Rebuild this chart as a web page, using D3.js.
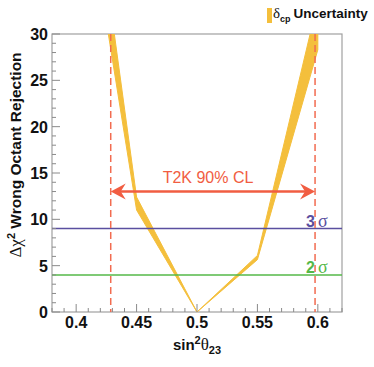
<!DOCTYPE html>
<html><head><meta charset="utf-8">
<script src="https://cdn.jsdelivr.net/npm/d3@7"></script>
<style>body{margin:0;background:#fff}svg{display:block}text{font-family:"Liberation Sans",Arial,sans-serif}</style>
</head><body>
<script>
// ---- data ----
const bandX  = [0.425, 0.45, 0.50, 0.55, 0.60];
const bandLo = [31.3, 11.0, 0.0, 5.65, 28.3];
const bandHi = [36.3, 12.4, 0.0, 6.1, 33.5];
const clBounds = [0.4286, 0.5977];
const clArrowY = 13;
const sigmaLevels = [9, 4];
const sigmaLabels = ["3", "2"];
const xMajorTicks = [0.4, 0.45, 0.5, 0.55, 0.6];
const xTickLabels = ["0.4", "0.45", "0.5", "0.55", "0.6"];
const yMajorTicks = [0, 5, 10, 15, 20, 25, 30];

const W = 374, H = 367;
const m = {l: 52, r: 32, t: 34, b: 55};
const svg = d3.select("body").append("svg").attr("width", W).attr("height", H);
const x = d3.scaleLinear().domain([0.38, 0.62]).range([m.l, W - m.r]);
const y = d3.scaleLinear().domain([0, 30]).range([H - m.b, m.t]);
const axisCol = "#8a8a8a";

svg.append("clipPath").attr("id", "clip").append("rect")
  .attr("x", m.l).attr("y", m.t).attr("width", W - m.r - m.l).attr("height", H - m.b - m.t);

// frame
svg.append("rect").attr("x", m.l).attr("y", m.t).attr("width", W - m.r - m.l).attr("height", H - m.b - m.t)
  .attr("fill", "none").attr("stroke", "#a0a0a0").attr("stroke-width", 1.2);

// band
const bandData = bandX.map((d, i) => ({x: d, lo: bandLo[i], hi: bandHi[i]}));
const area = d3.area().x(d => x(d.x)).y0(d => y(d.lo)).y1(d => y(d.hi));
svg.append("path").datum(bandData).attr("d", area).attr("clip-path", "url(#clip)")
  .attr("fill", "#f4bf3c").attr("stroke", "#f4bf3c").attr("stroke-width", 1).attr("stroke-linejoin", "round");

// sigma lines
const sigCols = ["#5a4fa0", "#55b848"];
sigmaLevels.forEach((v, i) => {
  svg.append("line").attr("x1", m.l).attr("x2", W - m.r).attr("y1", y(v)).attr("y2", y(v))
    .attr("stroke", sigCols[i]).attr("stroke-width", 1.5);
  const t = svg.append("text").attr("x", 306).attr("y", y(v) - 2).attr("fill", sigCols[i]).attr("font-size", 16);
  t.append("tspan").attr("font-weight", "bold").text(sigmaLabels[i]);
  t.append("tspan").attr("dx", 3).attr("font-family", "'Liberation Serif',serif").attr("font-size", 18).text("σ");
});

// dashed CL lines
clBounds.forEach(v => {
  svg.append("line").attr("x1", x(v)).attr("x2", x(v)).attr("y1", m.t).attr("y2", H - m.b)
    .attr("stroke", "#f26c50").attr("stroke-width", 1.5).attr("stroke-dasharray", "7,4");
});

// arrow
const ac = "#f15d42";
const ay = y(clArrowY), ax1 = x(clBounds[0]), ax2 = x(clBounds[1]);
svg.append("line").attr("x1", ax1 + 8).attr("x2", ax2 - 8).attr("y1", ay).attr("y2", ay)
  .attr("stroke", ac).attr("stroke-width", 2.5);
const head = (tx, dir) => {
  const L = 15, h = 8, n = 10;
  return `M${tx},${ay} L${tx + dir * L},${ay - h} L${tx + dir * n},${ay} L${tx + dir * L},${ay + h} Z`;
};
svg.append("path").attr("d", head(ax1, 1)).attr("fill", ac);
svg.append("path").attr("d", head(ax2, -1)).attr("fill", ac);
svg.append("text").attr("x", 208).attr("y", 183).attr("text-anchor", "middle")
  .attr("fill", ac).attr("font-size", 16).text("T2K 90% CL");

// x axis ticks
const g = svg.append("g");
d3.range(0.38, 0.6201, 0.01).forEach(v => {
  const maj = xMajorTicks.some(t => Math.abs(t - v) < 1e-6);
  g.append("line").attr("x1", x(v)).attr("x2", x(v)).attr("y1", y(0)).attr("y2", y(0) - (maj ? 8 : 4))
    .attr("stroke", axisCol).attr("stroke-width", 1);
});
xMajorTicks.forEach((v, i) => {
  g.append("text").attr("x", x(v)).attr("y", 328).attr("text-anchor", "middle")
    .attr("font-size", 16).attr("font-weight", "bold").attr("fill", "#111").text(xTickLabels[i]);
});
d3.range(0, 31, 1).forEach(v => {
  const maj = v % 5 === 0;
  g.append("line").attr("x1", m.l).attr("x2", m.l + (maj ? 8 : 4)).attr("y1", y(v)).attr("y2", y(v))
    .attr("stroke", axisCol).attr("stroke-width", 1);
});
yMajorTicks.forEach(v => {
  g.append("text").attr("x", 48).attr("y", y(v) + 6).attr("text-anchor", "end")
    .attr("font-size", 16).attr("font-weight", "bold").attr("fill", "#111").text(v);
});

// x title
const xt = svg.append("text").attr("x", 197).attr("y", 350).attr("text-anchor", "middle")
  .attr("font-size", 15).attr("font-weight", "bold").attr("fill", "#111");
xt.append("tspan").text("sin");
xt.append("tspan").attr("font-size", 11).attr("dy", -6).text("2");
xt.append("tspan").attr("dy", 6).attr("font-family", "'Liberation Serif',serif").attr("font-weight", "normal").attr("font-size", 17).text("θ");
xt.append("tspan").attr("font-size", 11).attr("dy", 4).text("23");

// y title
const yt = svg.append("text").attr("transform", "translate(21,155) rotate(-90)").attr("text-anchor", "middle")
  .attr("font-size", 15.5).attr("font-weight", "bold").attr("fill", "#111");
yt.append("tspan").attr("font-weight", "normal").attr("font-family", "'Liberation Serif',serif").attr("font-size", 17).text("Δχ");
yt.append("tspan").attr("font-size", 11).attr("dy", -6).text("2");
yt.append("tspan").attr("dy", 6).text(" Wrong Octant Rejection");

// legend
svg.append("rect").attr("x", 267).attr("y", 8).attr("width", 5).attr("height", 15).attr("fill", "#f4bf3c");
const lt = svg.append("text").attr("x", 273).attr("y", 18).attr("font-size", 13.5).attr("font-weight", "bold").attr("fill", "#111");
lt.append("tspan").attr("font-weight", "normal").attr("font-family", "'Liberation Serif',serif").attr("font-size", 15).text("δ");
lt.append("tspan").attr("font-size", 9).attr("dy", 4).text("cp");
lt.append("tspan").attr("dy", -4).attr("dx", 3).text("Uncertainty");
</script>
</body></html>
